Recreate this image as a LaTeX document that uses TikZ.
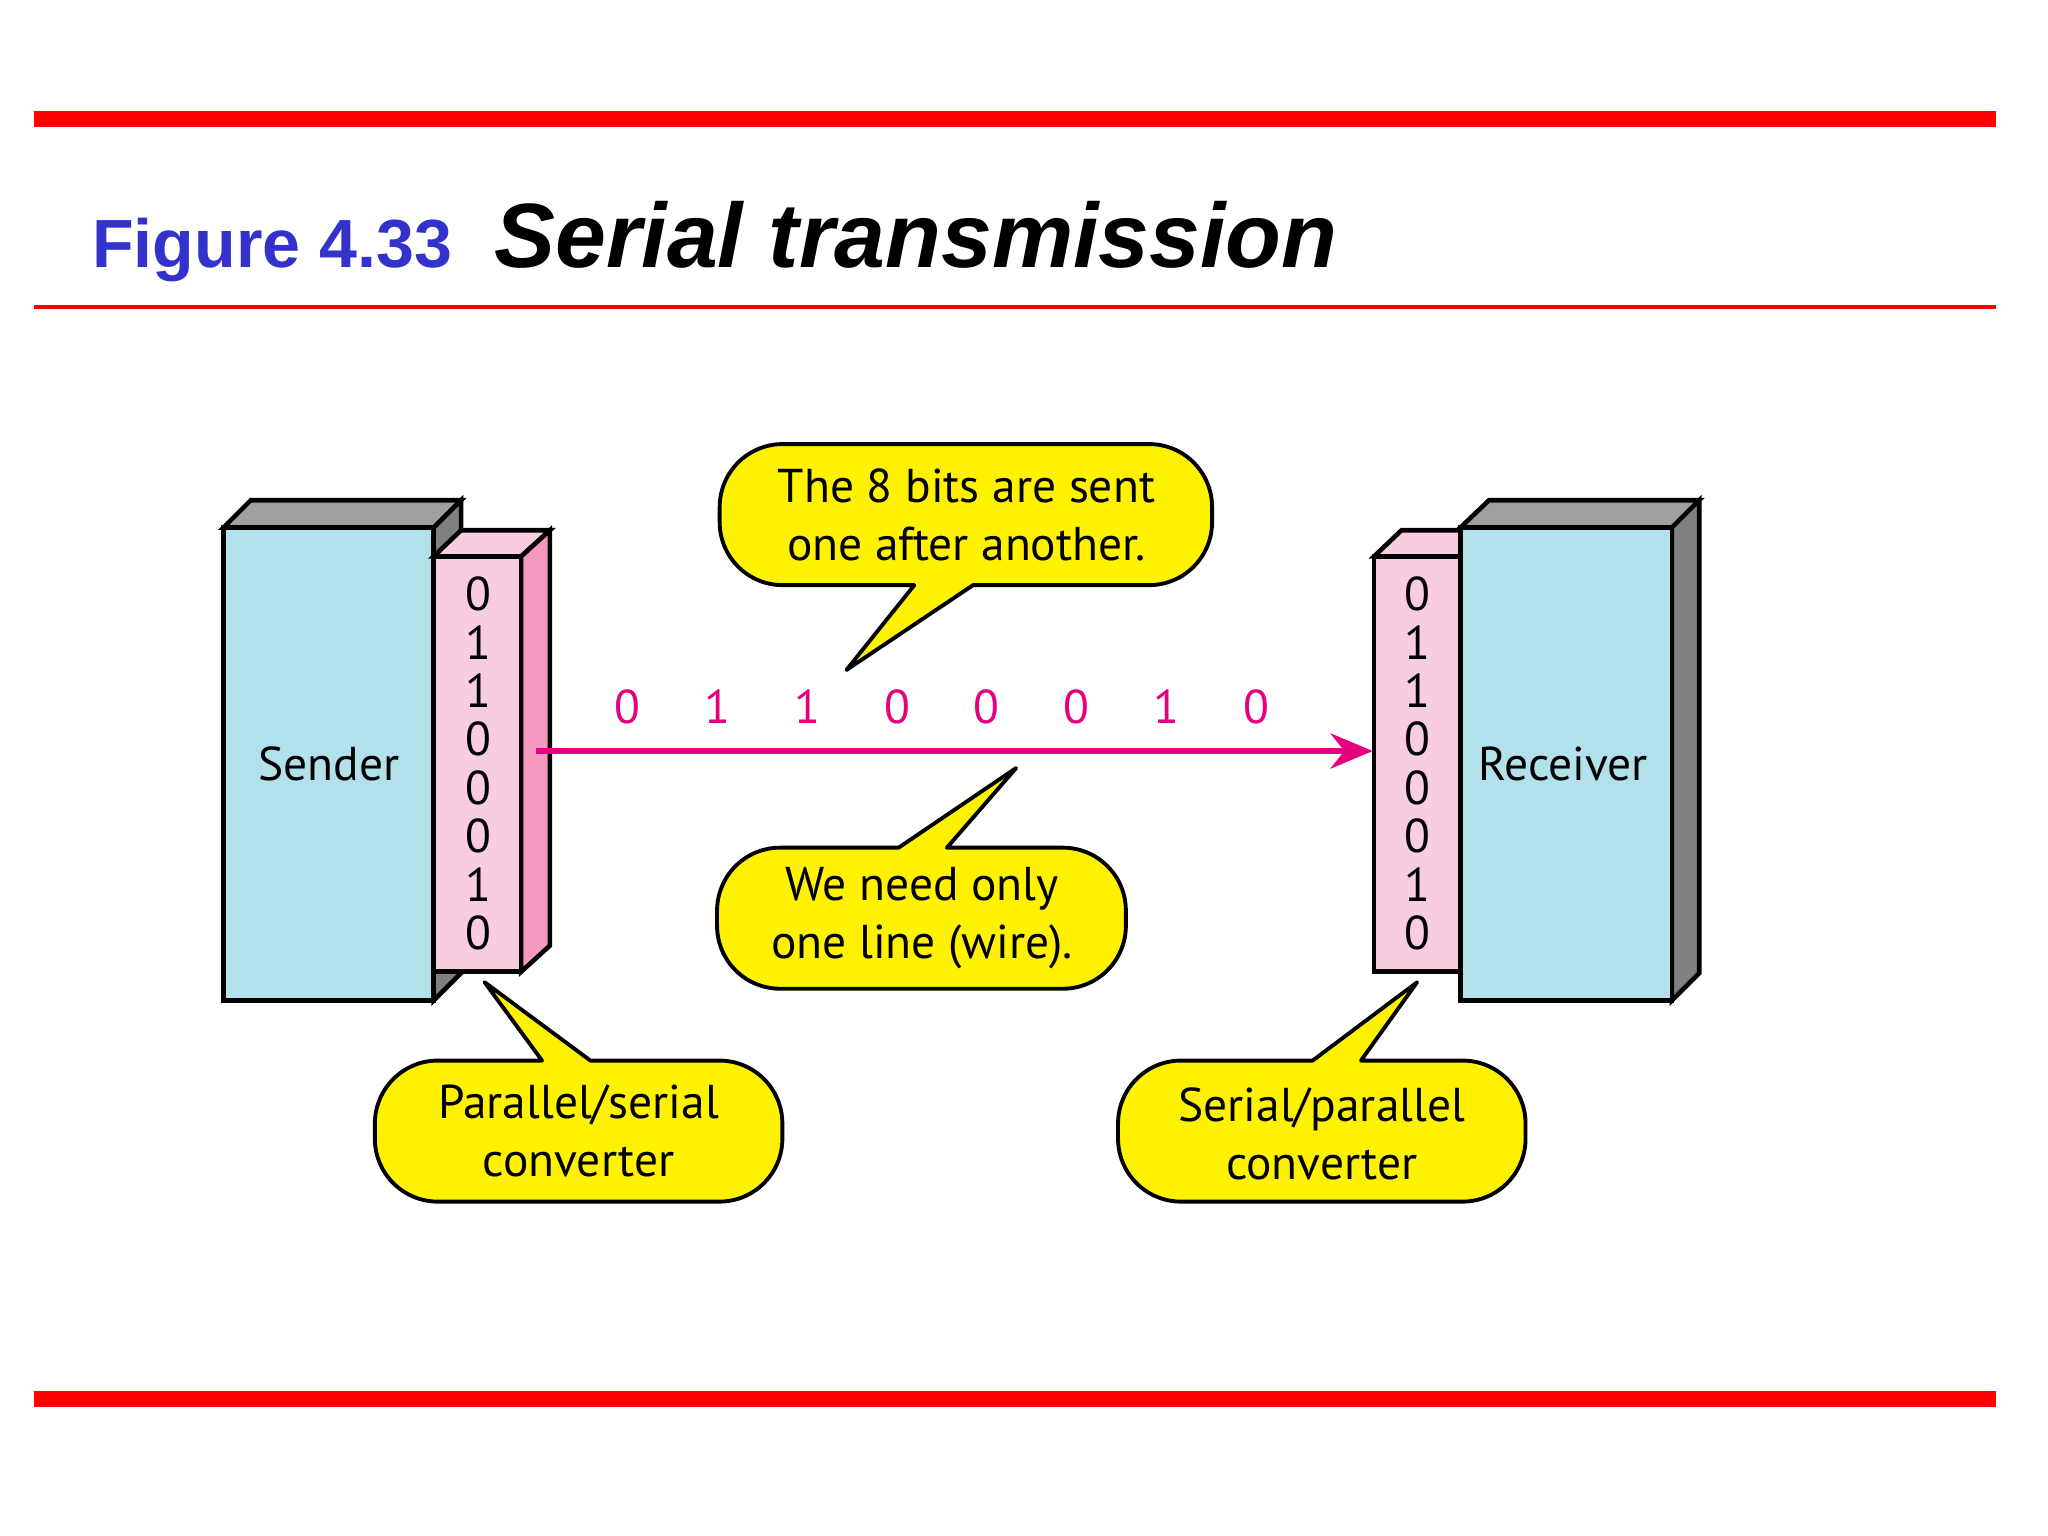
\documentclass[tikz,border=0pt]{standalone}
\usepackage{fontspec}
\usetikzlibrary{arrows.meta}
\setmainfont{Liberation Sans}
\newfontfamily\lab{PT Sans}
\begin{document}
\begin{tikzpicture}[x=0.013061cm,y=-0.013061cm,
  bar/.style={draw=red,line width=12*0.13061mm},
  front/.style={draw=black,line width=1.3pt},
  lbl/.style={font=\lab\fontsize{13.5}{16.5}\selectfont,align=center,inner sep=0},
  bit/.style={font=\lab\fontsize{13.5}{16}\selectfont,inner sep=0},
  call/.style={fill=yellow,draw=black,line width=1.1pt,line join=round}]
\useasboundingbox (0,0) rectangle (1568,1176);
\definecolor{lb}{HTML}{B3E1EB}\definecolor{pk}{HTML}{F9CDE1}\definecolor{pk2}{HTML}{F49AC1}
\definecolor{mg}{HTML}{E5007D}\definecolor{ttl}{HTML}{3333CC}
\def\rr{6.3mm}
\draw[bar] (26,91) -- (1528,91);
\draw[bar] (26,1071) -- (1528,1071);
\draw[draw=red,line width=3*0.13061mm] (26,235) -- (1528,235);
\node[anchor=base west,text=ttl,font=\bfseries\fontsize{19.4}{24}\selectfont,inner sep=0] (fig) at (70,205) {Figure 4.33};
\node[anchor=base west,font=\bfseries\itshape\fontsize{26}{31}\selectfont,inner sep=0] (tt) at (378,205) {Serial transmission};
% sender
\draw[front,fill=gray!75] (171,404)--(192,383)--(353,383)--(332,404)--cycle;
\draw[front,fill=gray] (332,404)--(353,383)--(353,745)--(332,766)--cycle;
\draw[front,fill=lb] (171,404) rectangle (332,766);
\node[lbl] (snd) at (252,585) {Sender};
\draw[front,fill=pk] (332,426)--(353,406)--(421,406)--(399,426)--cycle;
\draw[front,fill=pk2] (399,426)--(421,406)--(421,724)--(399,744)--cycle;
\draw[front,fill=pk] (332,426) rectangle (399,744);
% receiver
\draw[front,fill=pk] (1052,426)--(1073,406)--(1140,406)--(1118,426)--cycle;
\draw[front,fill=gray!75] (1118,404)--(1140,383)--(1301,383)--(1280,404)--cycle;
\draw[front,fill=gray] (1280,404)--(1301,383)--(1301,745)--(1280,766)--cycle;
\draw[front,fill=lb] (1118,404) rectangle (1280,766);
\draw[front,fill=pk] (1052,426) rectangle (1118,744);
\node[lbl] (rcv) at (1197,585) {Receiver};
\foreach \b [count=\i] in {0,1,1,0,0,0,1,0}{
  \node[bit] (s\i) at (366,{418+37*\i}) {\b};
  \node[bit] (r\i) at (1085,{418+37*\i}) {\b};
  \node[bit,text=mg] (w\i) at ({412+68.7*\i},541) {\b};
}
\coordinate (a0) at (410,575);
\coordinate (a1) at (1051,575);
\draw[mg,line width=1.5pt,-{Stealth[length=12pt,width=10pt]}] (a0) -- (a1);
% callouts
\draw[call] (745,448) -- (648,513) -- (700,448) [rounded corners=\rr] -- (551,448) -- (551,340) -- (928,340) -- (928,448) [sharp corners] -- (745,448) -- cycle;
\node[lbl] (c1) at (740,394) {The 8 bits are sent\\one after another.};
\draw[call] (688,649) -- (778,588) -- (725,649) [rounded corners=\rr] -- (862,649) -- (862,757) -- (549,757) -- (549,649) [sharp corners] -- (688,649) -- cycle;
\node[lbl] (c2) at (706,703) {We need only\\one line (wire).};
\draw[call] (415,812) -- (371,752) -- (452,812) [rounded corners=\rr] -- (599,812) -- (599,920) -- (287,920) -- (287,812) [sharp corners] -- (415,812) -- cycle;
\node[lbl] (c3) at (443,866) {Parallel/serial\\converter};
\draw[call] (1005,812) -- (1085,752) -- (1042,812) [rounded corners=\rr] -- (1168,812) -- (1168,920) -- (856,920) -- (856,812) [sharp corners] -- (1005,812) -- cycle;
\node[lbl] (c4) at (1012,868) {Serial/parallel\\converter};
\end{tikzpicture}
\end{document}
